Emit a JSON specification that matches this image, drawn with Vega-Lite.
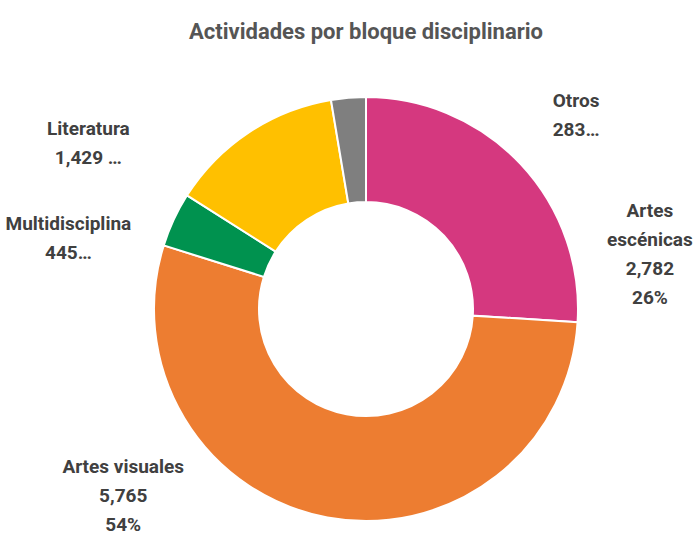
{
  "$schema": "https://vega.github.io/schema/vega-lite/v6.json",
  "autosize": "none",
  "padding": {"left": 37, "top": 81, "right": 0, "bottom": 0},
  "width": 658,
  "height": 456,
  "background": "white",
  "config": {"view": {"stroke": null}},
  "title": {
    "text": "Actividades por bloque disciplinario",
    "anchor": "middle",
    "font": "Roboto, sans-serif",
    "fontSize": 22,
    "fontWeight": "bold",
    "color": "#555555",
    "baseline": "alphabetic",
    "offset": 20
  },
  "data": {
    "values": [
      {"cat": "Artes escénicas", "value": 2782, "lines": ["Artes", "escénicas", "2,782", "26%"]},
      {"cat": "Artes visuales", "value": 5765, "lines": ["Artes visuales", "5,765", "54%"]},
      {"cat": "Multidisciplina", "value": 445, "lines": ["Multidisciplina", "445…"]},
      {"cat": "Literatura", "value": 1429, "lines": ["Literatura", "1,429 …"]},
      {"cat": "Otros", "value": 283, "lines": ["Otros", "283…"]}
    ]
  },
  "transform": [
    {"window": [{"op": "row_number", "as": "idx"}]},
    {"stack": "value", "groupby": [], "sort": [{"field": "idx", "order": "ascending"}], "as": ["v0", "v1"]},
    {"calculate": "(datum.v0 + datum.v1) / 2", "as": "vmid"}
  ],
  "layer": [
    {
      "mark": {"type": "arc", "outerRadius": 212, "innerRadius": 107, "stroke": "white", "strokeWidth": 2},
      "encoding": {
        "theta": {"field": "v0", "type": "quantitative", "stack": null, "scale": {"domain": [0, 10704]}},
        "theta2": {"field": "v1"},
        "color": {
          "field": "cat",
          "type": "nominal",
          "legend": null,
          "scale": {
            "domain": ["Artes escénicas", "Artes visuales", "Multidisciplina", "Literatura", "Otros"],
            "range": ["#D5387F", "#ED7D31", "#00924F", "#FFC000", "#7F7F7F"]
          }
        }
      }
    },
    {
      "transform": [{"filter": "datum.cat == 'Artes escénicas'"}],
      "mark": {"type": "text", "radius": 240, "dx": 109, "dy": 66, "align": "center", "baseline": "middle", "lineHeight": 29, "font": "Roboto, sans-serif", "fontSize": 19, "fontWeight": "bold", "color": "#404040"},
      "encoding": {"theta": {"field": "vmid", "type": "quantitative", "stack": null}, "text": {"field": "lines"}}
    },
    {
      "transform": [{"filter": "datum.cat == 'Artes visuales'"}],
      "mark": {"type": "text", "radius": 240, "dx": -199, "dy": -78, "align": "center", "baseline": "middle", "lineHeight": 29, "font": "Roboto, sans-serif", "fontSize": 19, "fontWeight": "bold", "color": "#404040"},
      "encoding": {"theta": {"field": "vmid", "type": "quantitative", "stack": null}, "text": {"field": "lines"}}
    },
    {
      "transform": [{"filter": "datum.cat == 'Multidisciplina'"}],
      "mark": {"type": "text", "radius": 240, "dx": -80, "dy": 16, "align": "center", "baseline": "middle", "lineHeight": 29, "font": "Roboto, sans-serif", "fontSize": 19, "fontWeight": "bold", "color": "#404040"},
      "encoding": {"theta": {"field": "vmid", "type": "quantitative", "stack": null}, "text": {"field": "lines"}}
    },
    {
      "transform": [{"filter": "datum.cat == 'Literatura'"}],
      "mark": {"type": "text", "radius": 240, "dx": -145, "dy": 20, "align": "center", "baseline": "middle", "lineHeight": 29, "font": "Roboto, sans-serif", "fontSize": 19, "fontWeight": "bold", "color": "#404040"},
      "encoding": {"theta": {"field": "vmid", "type": "quantitative", "stack": null}, "text": {"field": "lines"}}
    },
    {
      "transform": [{"filter": "datum.cat == 'Otros'"}],
      "mark": {"type": "text", "radius": 240, "dx": 230, "dy": 31, "align": "center", "baseline": "middle", "lineHeight": 29, "font": "Roboto, sans-serif", "fontSize": 19, "fontWeight": "bold", "color": "#404040"},
      "encoding": {"theta": {"field": "vmid", "type": "quantitative", "stack": null}, "text": {"field": "lines"}}
    }
  ]
}
